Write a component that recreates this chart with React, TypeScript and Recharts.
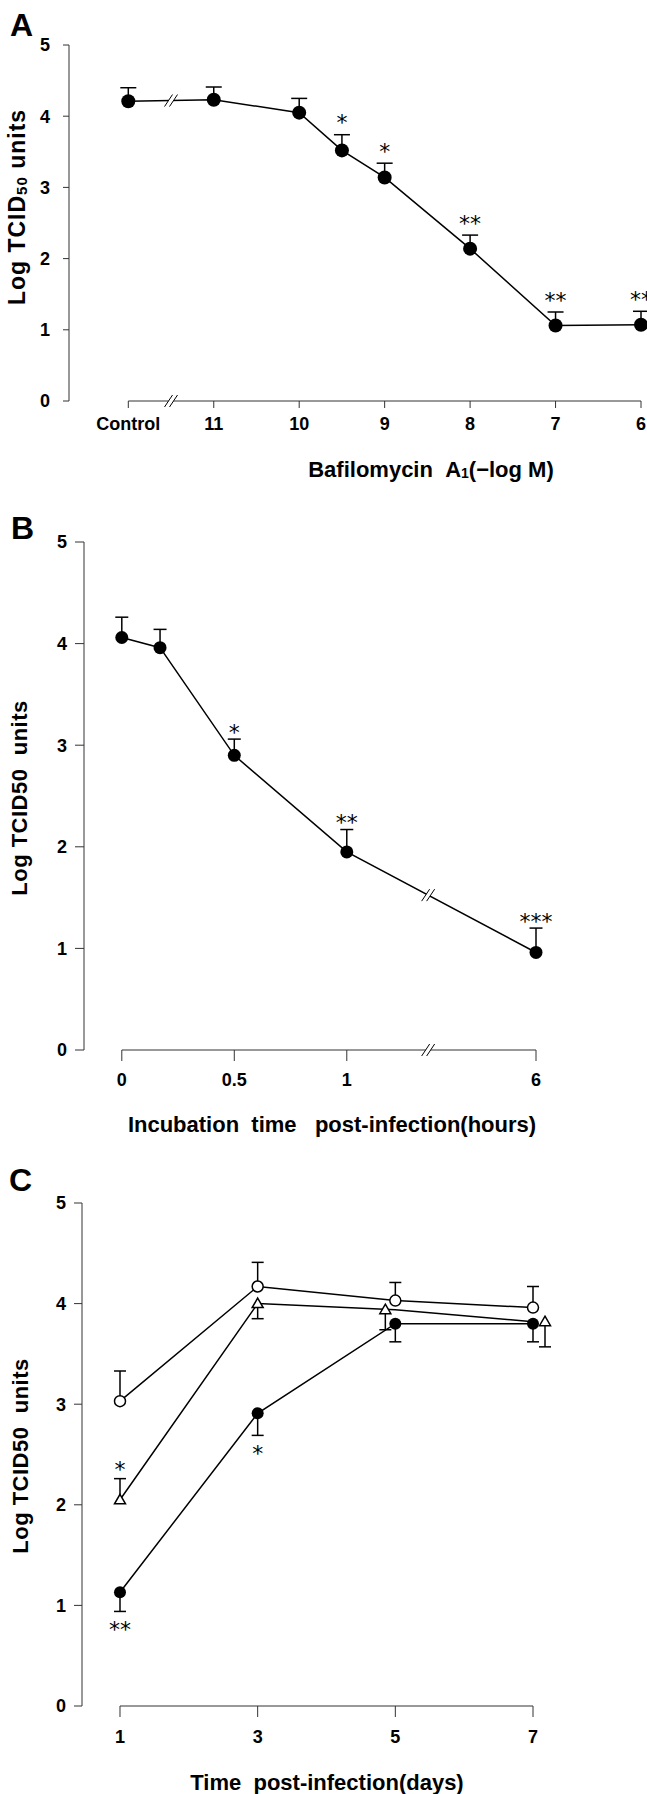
import React from 'react';
import { LineChart, Line, XAxis, YAxis, ReferenceLine, ReferenceDot, Label } from 'recharts';

// ---- Panel A: Bafilomycin A1 dose response (-log M) ----
const doseCategories = ['Control', '11', '10', '9.5', '9', '8', '7', '6'];
const doseTiter = [4.21, 4.23, 4.05, 3.52, 3.14, 2.14, 1.06, 1.07];
const doseSem = [0.19, 0.18, 0.2, 0.22, 0.2, 0.19, 0.19, 0.19];
const doseStars = ['', '', '', '*', '*', '**', '**', '**'];
const doseTicks = ['Control', '11', '10', '9', '8', '7', '6'];

// ---- Panel B: incubation time post-infection (hours) ----
const hours = [0, 0.17, 0.5, 1, 6];
const hoursTiter = [4.06, 3.96, 2.9, 1.95, 0.96];
const hoursSem = [0.2, 0.18, 0.16, 0.22, 0.24];
const hoursStars = ['', '', '*', '**', '***'];
const hourTicks = [0, 0.5, 1, 6];

// ---- Panel C: time post-infection (days), three series ----
const days = [1, 3, 5, 7];
const openTiter = [3.03, 4.17, 4.03, 3.96];
const openSem = [0.3, 0.24, 0.18, 0.21];
const triTiter = [2.05, 4.0, 3.94, 3.82];
const triSem = [0.21, 0.15, 0.2, 0.25];
const triStars = ['*', '', '', ''];
const filledTiter = [1.13, 2.91, 3.8, 3.8];
const filledSem = [0.19, 0.22, 0.18, 0.18];
const filledStars = ['**', '*', '', ''];
const dayTicks = [1, 3, 5, 7];

// axis break handling
const CONTROL_POS = 12; // control drawn one step left of 11, behind a break
const HOUR_GAP = 0.841; // 1h -> 6h compressed behind a break
const hourPos = (h: number) => (h <= 1 ? h : 1 + HOUR_GAP);

const FONT = 'Liberation Sans, Arial, Helvetica, sans-serif';
const tickStyle = { fill: '#000', fontSize: 18, fontWeight: 700, fontFamily: FONT };
const AXIS = '#333';

type Dir = 'up' | 'down';
type Marker = 'filled' | 'open' | 'triangle';
interface DotCfg {
  marker: Marker;
  r: number;
  sem: number[];
  dir: Dir[];
  stars: string[];
  cap: number;
  starGap: number;
  nudge?: number[];
}

// pixels per log unit, taken from the line's own projected points
const unitPx = (pts: any[]) => {
  if (!pts || pts.length < 2) return 0;
  let hi = pts[0];
  let lo = pts[0];
  pts.forEach((p) => {
    if (p.value > hi.value) hi = p;
    if (p.value < lo.value) lo = p;
  });
  return hi.value === lo.value ? 0 : (lo.y - hi.y) / (hi.value - lo.value);
};

const makeDot = (cfg: DotCfg) => (props: any) => {
  const { cx, cy, index, points } = props;
  if (cx == null || cy == null) return <g key={`d-${index}`} />;
  const k = unitPx(points);
  const x = cx + (cfg.nudge ? cfg.nudge[index] : 0);
  const sign = cfg.dir[index] === 'up' ? -1 : 1;
  const end = cy + sign * cfg.sem[index] * k;
  const star = cfg.stars[index];
  const starFs = 22;
  const starCy = end + sign * cfg.starGap;
  let mark;
  if (cfg.marker === 'filled') mark = <circle cx={x} cy={cy} r={cfg.r} fill="#000" />;
  else if (cfg.marker === 'open')
    mark = <circle cx={x} cy={cy} r={cfg.r} fill="#fff" stroke="#000" strokeWidth={1.5} />;
  else
    mark = (
      <polygon
        points={`${x},${cy - 5.5} ${x + 5.5},${cy + 4} ${x - 5.5},${cy + 4}`}
        fill="#fff"
        stroke="#000"
        strokeWidth={1.5}
      />
    );
  return (
    <g key={`d-${index}`}>
      <line x1={x} y1={cy} x2={x} y2={end} stroke="#000" strokeWidth={1.5} />
      <line x1={x - cfg.cap / 2} y1={end} x2={x + cfg.cap / 2} y2={end} stroke="#000" strokeWidth={1.5} />
      {mark}
      {star ? (
        <text x={x} y={starCy + 0.57 * starFs} textAnchor="middle" fontSize={starFs} fontFamily="DejaVu Sans, sans-serif" fill="#000">
          {star}
        </text>
      ) : null}
    </g>
  );
};

const BreakMark = (props: any) => {
  const { cx, cy } = props;
  if (cx == null || cy == null) return <g />;
  const d = 2.5;
  return (
    <g>
      <polygon
        points={`${cx - d - 4},${cy + 6} ${cx - d + 4},${cy - 6} ${cx + d + 4},${cy - 6} ${cx + d - 4},${cy + 6}`}
        fill="#fff"
      />
      <line x1={cx - d - 4} y1={cy + 6} x2={cx - d + 4} y2={cy - 6} stroke="#000" strokeWidth={1} />
      <line x1={cx + d - 4} y1={cy + 6} x2={cx + d + 4} y2={cy - 6} stroke="#000" strokeWidth={1} />
    </g>
  );
};

const yTitle = (x: number, y: number, sub: boolean) => () => (
  <text
    x={x}
    y={y}
    transform={`rotate(-90, ${x}, ${y})`}
    textAnchor="middle"
    dominantBaseline="central"
    fontFamily={FONT}
    fontWeight={700}
    fontSize={sub ? 23 : 22}
    letterSpacing={sub ? 1 : 0.5}
    fill="#000"
  >
    {sub ? (
      <>
        Log TCID
        <tspan fontSize={15} dy={4}>
          50
        </tspan>
        <tspan dy={-4}> units</tspan>
      </>
    ) : (
      'Log TCID50\u00a0\u00a0units'
    )}
  </text>
);

const xTitle = (x: number, y: number, body: React.ReactNode) => () => (
  <text x={x} y={y} textAnchor="middle" dominantBaseline="central" fontFamily={FONT} fontWeight={700} fontSize={22} fill="#000">
    {body}
  </text>
);

const PanelA = () => {
  const data = doseCategories.map((c, i) => ({
    pos: c === 'Control' ? CONTROL_POS : Number(c),
    titer: doseTiter[i],
  }));
  const tickPos = doseTicks.map((t) => (t === 'Control' ? CONTROL_POS : Number(t)));
  const brkX = (data[0].pos + data[1].pos) / 2;
  const brkY = (data[0].titer + data[1].titer) / 2;
  return (
    <LineChart width={647} height={500} data={data} margin={{ top: 45, right: 6, left: 0, bottom: 0 }}>
      <XAxis
        type="number"
        dataKey="pos"
        domain={[6, 12.694]}
        reversed
        ticks={tickPos}
        interval={0}
        tickFormatter={(v: number) => (v === CONTROL_POS ? 'Control' : String(v))}
        axisLine={false}
        tickSize={7}
        tickMargin={9}
        tickLine={{ stroke: AXIS }}
        tick={tickStyle}
        height={99}
      >
        <Label
          content={xTitle(431, 469, (
            <>
              {'Bafilomycin\u00a0\u00a0A'}
              <tspan fontSize={14} dy={4}>1</tspan>
              <tspan dy={-4}>(−log M)</tspan>
            </>
          ))}
        />
      </XAxis>
      <YAxis
        type="number"
        domain={[0, 5]}
        ticks={[0, 1, 2, 3, 4, 5]}
        width={69}
        axisLine={{ stroke: AXIS }}
        tickLine={{ stroke: AXIS }}
        tickSize={6}
        tickMargin={13}
        tick={tickStyle}
      >
        <Label content={yTitle(17, 207, true)} />
      </YAxis>
      <ReferenceLine segment={[{ x: CONTROL_POS, y: 0 }, { x: 6, y: 0 }]} stroke={AXIS} />
      <Line
        dataKey="titer"
        stroke="#000"
        strokeWidth={1.5}
        isAnimationActive={false}
        activeDot={false}
        dot={makeDot({ marker: 'filled', r: 7, sem: doseSem, dir: doseSem.map(() => 'up'), stars: doseStars, cap: 16, starGap: 17 })}
      />
      <ReferenceDot x={brkX} y={brkY} shape={BreakMark} />
      <ReferenceDot x={brkX} y={0} shape={BreakMark} />
    </LineChart>
  );
};

const PanelB = () => {
  const data = hours.map((h, i) => ({ pos: hourPos(h), titer: hoursTiter[i] }));
  const f = 0.43;
  const brkX = data[3].pos + f * (data[4].pos - data[3].pos);
  const brkY = data[3].titer + f * (data[4].titer - data[3].titer);
  return (
    <LineChart width={647} height={640} data={data} margin={{ top: 42, right: 111, left: 0, bottom: 0 }}>
      <XAxis
        type="number"
        dataKey="pos"
        domain={[-0.168, hourPos(6)]}
        ticks={hourTicks.map(hourPos)}
        interval={0}
        tickFormatter={(v: number) => String(hourTicks[hourTicks.map(hourPos).indexOf(v)])}
        axisLine={false}
        tickSize={11}
        tickMargin={12}
        tickLine={{ stroke: AXIS }}
        tick={tickStyle}
        height={90}
      >
        <Label content={xTitle(332, 624, 'Incubation\u00a0\u00a0time\u00a0\u00a0\u00a0post-infection(hours)')} />
      </XAxis>
      <YAxis
        type="number"
        domain={[0, 5]}
        ticks={[0, 1, 2, 3, 4, 5]}
        width={84}
        axisLine={{ stroke: AXIS }}
        tickLine={{ stroke: AXIS }}
        tickSize={9}
        tickMargin={8}
        tick={tickStyle}
      >
        <Label content={yTitle(19, 298, false)} />
      </YAxis>
      <ReferenceLine segment={[{ x: 0, y: 0 }, { x: hourPos(6), y: 0 }]} stroke={AXIS} />
      <Line
        dataKey="titer"
        stroke="#000"
        strokeWidth={1.5}
        isAnimationActive={false}
        activeDot={false}
        dot={makeDot({ marker: 'filled', r: 6.5, sem: hoursSem, dir: hoursSem.map(() => 'up'), stars: hoursStars, cap: 13, starGap: 12 })}
      />
      <ReferenceDot x={brkX} y={brkY} shape={BreakMark} />
      <ReferenceDot x={brkX} y={0} shape={BreakMark} />
    </LineChart>
  );
};

const PanelC = () => {
  const data = days.map((d, i) => ({ day: d, open: openTiter[i], tri: triTiter[i], filled: filledTiter[i] }));
  return (
    <LineChart width={647} height={654} data={data} margin={{ top: 63, right: 114, left: 0, bottom: 0 }}>
      <XAxis
        type="number"
        dataKey="day"
        domain={[0.448, 7]}
        ticks={dayTicks}
        interval={0}
        axisLine={false}
        tickSize={11}
        tickMargin={13}
        tickLine={{ stroke: AXIS }}
        tick={tickStyle}
        height={88}
      >
        <Label content={xTitle(327, 642, 'Time\u00a0\u00a0post-infection(days)')} />
      </XAxis>
      <YAxis
        type="number"
        domain={[0, 5]}
        ticks={[0, 1, 2, 3, 4, 5]}
        width={82}
        axisLine={{ stroke: AXIS }}
        tickLine={{ stroke: AXIS }}
        tickSize={8}
        tickMargin={8}
        tick={tickStyle}
      >
        <Label content={yTitle(20, 316, false)} />
      </YAxis>
      <ReferenceLine segment={[{ x: 1, y: 0 }, { x: 7, y: 0 }]} stroke={AXIS} />
      <Line
        dataKey="open"
        stroke="#000"
        strokeWidth={1.5}
        isAnimationActive={false}
        activeDot={false}
        dot={makeDot({ marker: 'open', r: 5.5, sem: openSem, dir: ['up', 'up', 'up', 'up'], stars: ['', '', '', ''], cap: 12, starGap: 14 })}
      />
      <Line
        dataKey="tri"
        stroke="#000"
        strokeWidth={1.5}
        isAnimationActive={false}
        activeDot={false}
        dot={makeDot({ marker: 'triangle', r: 5, sem: triSem, dir: ['up', 'down', 'down', 'down'], stars: triStars, cap: 12, starGap: 14, nudge: [0, 0, -10, 12] })}
      />
      <Line
        dataKey="filled"
        stroke="#000"
        strokeWidth={1.5}
        isAnimationActive={false}
        activeDot={false}
        dot={makeDot({ marker: 'filled', r: 6, sem: filledSem, dir: ['down', 'down', 'down', 'down'], stars: filledStars, cap: 12, starGap: 13 })}
      />
    </LineChart>
  );
};

const App = () => (
  <div style={{ position: 'absolute', left: 0, top: 0, width: 647, height: 1794, background: '#fff' }}>
    <div style={{ position: 'absolute', left: 0, top: 0 }}>
      <PanelA />
    </div>
    <div style={{ position: 'absolute', left: 0, top: 500 }}>
      <PanelB />
    </div>
    <div style={{ position: 'absolute', left: 0, top: 1140 }}>
      <PanelC />
    </div>
    <svg width={647} height={1794} style={{ position: 'absolute', left: 0, top: 0, pointerEvents: 'none' }}>
      <g fontFamily={FONT} fontWeight={700} fontSize={32} fill="#000">
        <text x={10} y={36}>A</text>
        <text x={11} y={539}>B</text>
        <text x={9} y={1191}>C</text>
      </g>
    </svg>
  </div>
);

export default App;
